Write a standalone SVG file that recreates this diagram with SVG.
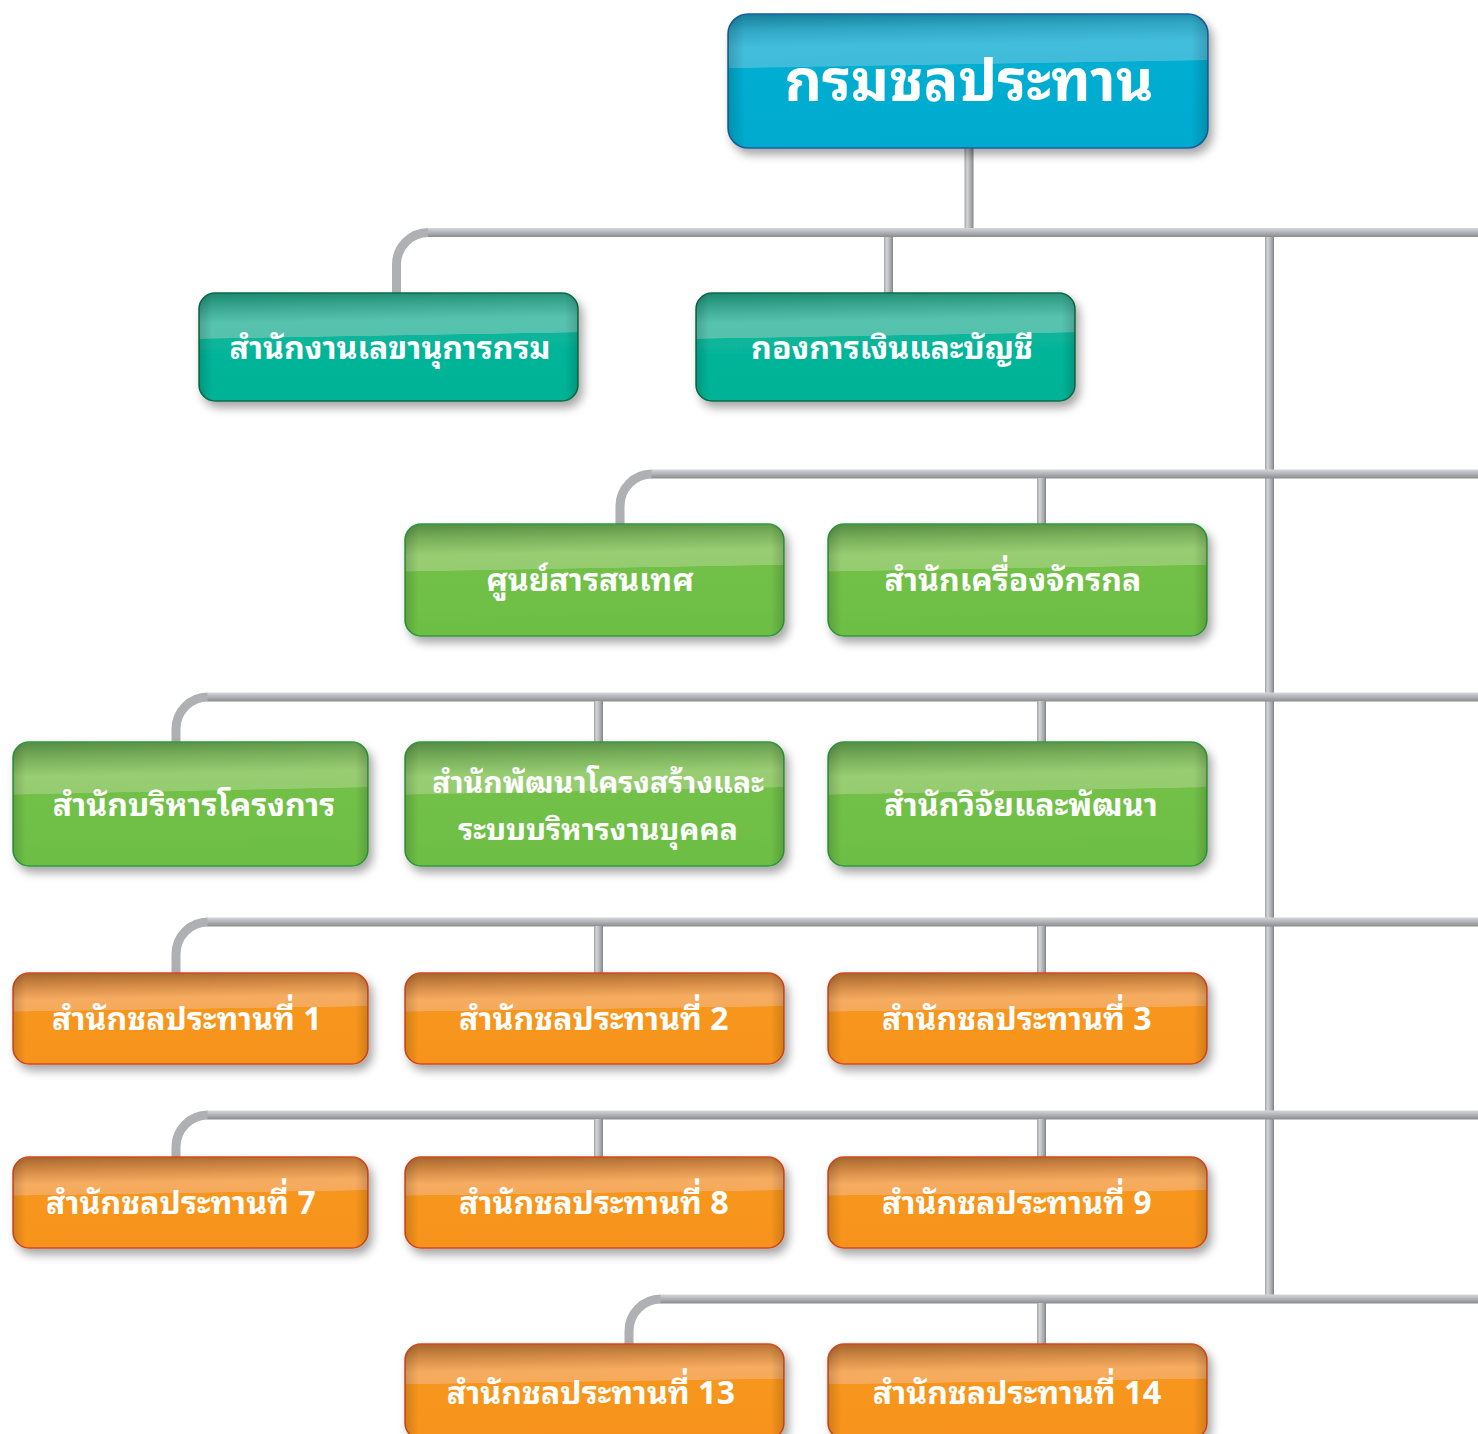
<svg xmlns="http://www.w3.org/2000/svg" width="1478" height="1434" viewBox="0 0 1478 1434">
<defs>
<style>
.lbl{font-family:"Noto Sans Thai Looped","Noto Sans Thai","Noto Sans","DejaVu Sans",sans-serif;font-weight:700;fill:#ffffff;text-anchor:middle}
.t30{font-size:32px}
.t2{font-size:30px}
.t56{font-size:58px}
.pipe{fill:none;stroke:#AEB0B3;stroke-width:9}
.hbar{fill:url(#hpipe)}
.vbar{fill:url(#vpipe)}
.side{fill:url(#side)}
.blue{fill:url(#gBlue);stroke:#1D5E9E;stroke-width:1.5}
.teal{fill:url(#gTeal);stroke:#0E6B42;stroke-width:1.5}
.green{fill:url(#gGreen);stroke:#2E9B40;stroke-width:1.5}
.orange{fill:url(#gOrange);stroke:#D8481F;stroke-width:1.5}
.shadow{filter:url(#sh)}
</style>
<filter id="sh" x="-10%" y="-20%" width="125%" height="150%">
<feDropShadow dx="4" dy="6" stdDeviation="5" flood-color="#000" flood-opacity="0.35"/>
</filter>
<linearGradient id="hpipe" x1="0" y1="0" x2="0" y2="1">
<stop offset="0" stop-color="#D6D7D9"/><stop offset="0.45" stop-color="#B3B5B8"/><stop offset="1" stop-color="#898B8E"/>
</linearGradient>
<linearGradient id="vpipe" x1="0" y1="0" x2="1" y2="0">
<stop offset="0" stop-color="#A2A4A7"/><stop offset="0.3" stop-color="#D3D4D6"/><stop offset="0.7" stop-color="#A9ABAE"/><stop offset="1" stop-color="#838588"/>
</linearGradient>
<linearGradient id="side" x1="0" y1="0" x2="1" y2="0">
<stop offset="0" stop-color="#000" stop-opacity="0.16"/><stop offset="0.035" stop-color="#000" stop-opacity="0"/><stop offset="0.965" stop-color="#000" stop-opacity="0"/><stop offset="1" stop-color="#000" stop-opacity="0.16"/>
</linearGradient>
<linearGradient id="gBlue" x1="0" y1="0" x2="0.06" y2="1">
<stop offset="0" stop-color="#157E98"/><stop offset="0.12" stop-color="#2FA6C4"/><stop offset="0.25" stop-color="#43BDDB"/><stop offset="0.4" stop-color="#40BCDA"/><stop offset="0.405" stop-color="#05AED2"/><stop offset="1" stop-color="#00AACE"/>
</linearGradient>
<linearGradient id="gTeal" x1="0" y1="0" x2="0.06" y2="1">
<stop offset="0" stop-color="#1B8870"/><stop offset="0.14" stop-color="#3AA891"/><stop offset="0.28" stop-color="#57C3AF"/><stop offset="0.42" stop-color="#55C2AD"/><stop offset="0.425" stop-color="#08B59A"/><stop offset="1" stop-color="#00B396"/>
</linearGradient>
<linearGradient id="gGreen" x1="0" y1="0" x2="0.06" y2="1">
<stop offset="0" stop-color="#578B44"/><stop offset="0.14" stop-color="#79B05A"/><stop offset="0.28" stop-color="#98CD73"/><stop offset="0.42" stop-color="#96CC70"/><stop offset="0.425" stop-color="#72C047"/><stop offset="1" stop-color="#6DBE45"/>
</linearGradient>
<linearGradient id="gOrange" x1="0" y1="0" x2="0.06" y2="1">
<stop offset="0" stop-color="#A3662C"/><stop offset="0.15" stop-color="#D38A45"/><stop offset="0.3" stop-color="#F6AC60"/><stop offset="0.42" stop-color="#F5A95A"/><stop offset="0.425" stop-color="#F7961F"/><stop offset="1" stop-color="#F7931E"/>
</linearGradient>
</defs>
<rect width="1478" height="1434" fill="#ffffff"/>

<g id="connectors">
<rect class="vbar" x="1265" y="236" width="9" height="1063"/>
<rect class="vbar" x="964.5" y="148" width="9" height="82"/>
<path class="pipe" d="M396.5,294 V264.5 A32,32 0 0 1 428.5,232.5"/>
<rect class="hbar" x="428" y="228" width="1050" height="9"/>
<rect class="vbar" x="884" y="237" width="9" height="57"/>

<path class="pipe" d="M620,525 V506 A32,32 0 0 1 652,474"/>
<rect class="hbar" x="651.5" y="469.5" width="826.5" height="9"/>
<rect class="vbar" x="1037" y="478" width="9" height="47"/>

<path class="pipe" d="M176,743 V729 A32,32 0 0 1 208,697"/>
<rect class="hbar" x="207.5" y="692.5" width="1270.5" height="9"/>
<rect class="vbar" x="594" y="701" width="9" height="42"/>
<rect class="vbar" x="1037" y="701" width="9" height="42"/>

<path class="pipe" d="M176,974 V954 A32,32 0 0 1 208,922"/>
<rect class="hbar" x="207.5" y="917.5" width="1270.5" height="9"/>
<rect class="vbar" x="594" y="926" width="9" height="48"/>
<rect class="vbar" x="1037" y="926" width="9" height="48"/>

<path class="pipe" d="M176,1158 V1147 A32,32 0 0 1 208,1115"/>
<rect class="hbar" x="207.5" y="1110.5" width="1270.5" height="9"/>
<rect class="vbar" x="594" y="1119" width="9" height="39"/>
<rect class="vbar" x="1037" y="1119" width="9" height="39"/>

<path class="pipe" d="M629,1345 V1331 A32,32 0 0 1 661,1299"/>
<rect class="hbar" x="660.5" y="1294.5" width="817.5" height="9"/>
<rect class="vbar" x="1037" y="1303" width="9" height="42"/>
</g>

<g id="n-root">
<rect class="blue shadow" x="728" y="14" width="480" height="134" rx="20"/>
<rect class="side" x="728" y="14" width="480" height="134" rx="20"/>
<text class="lbl t56" x="969" y="101">กรมชลประทาน</text>
</g>

<g id="n-secretary">
<rect class="teal shadow" x="199" y="293" width="379" height="108" rx="16"/>
<rect class="side" x="199" y="293" width="379" height="108" rx="16"/>
<text class="lbl t30" x="390" y="359">สำนักงานเลขานุการกรม</text>
</g>
<g id="n-finance">
<rect class="teal shadow" x="696" y="293" width="379" height="108" rx="16"/>
<rect class="side" x="696" y="293" width="379" height="108" rx="16"/>
<text class="lbl t30" x="892" y="359">กองการเงินและบัญชี</text>
</g>

<g id="n-ict">
<rect class="green shadow" x="405" y="524" width="379" height="112" rx="16"/>
<rect class="side" x="405" y="524" width="379" height="112" rx="16"/>
<text class="lbl t30" x="590" y="591">ศูนย์สารสนเทศ</text>
</g>
<g id="n-machinery">
<rect class="green shadow" x="828" y="524" width="379" height="112" rx="16"/>
<rect class="side" x="828" y="524" width="379" height="112" rx="16"/>
<text class="lbl t30" x="1013" y="591">สำนักเครื่องจักรกล</text>
</g>

<g id="n-project">
<rect class="green shadow" x="13" y="742" width="355" height="124" rx="16"/>
<rect class="side" x="13" y="742" width="355" height="124" rx="16"/>
<text class="lbl t30" x="194" y="816">สำนักบริหารโครงการ</text>
</g>
<g id="n-structure">
<rect class="green shadow" x="405" y="742" width="379" height="124" rx="16"/>
<rect class="side" x="405" y="742" width="379" height="124" rx="16"/>
<text class="lbl t2" x="598" y="793">สำนักพัฒนาโครงสร้างและ</text>
<text class="lbl t2" x="598" y="840">ระบบบริหารงานบุคคล</text>
</g>
<g id="n-research">
<rect class="green shadow" x="828" y="742" width="379" height="124" rx="16"/>
<rect class="side" x="828" y="742" width="379" height="124" rx="16"/>
<text class="lbl t30" x="1021" y="816">สำนักวิจัยและพัฒนา</text>
</g>

<g id="n-rio1">
<rect class="orange shadow" x="13" y="973" width="355" height="91" rx="16"/>
<rect class="side" x="13" y="973" width="355" height="91" rx="16"/>
<text class="lbl t30" x="187" y="1030">สำนักชลประทานที่ 1</text>
</g>
<g id="n-rio2">
<rect class="orange shadow" x="405" y="973" width="379" height="91" rx="16"/>
<rect class="side" x="405" y="973" width="379" height="91" rx="16"/>
<text class="lbl t30" x="594" y="1030">สำนักชลประทานที่ 2</text>
</g>
<g id="n-rio3">
<rect class="orange shadow" x="828" y="973" width="379" height="91" rx="16"/>
<rect class="side" x="828" y="973" width="379" height="91" rx="16"/>
<text class="lbl t30" x="1017" y="1030">สำนักชลประทานที่ 3</text>
</g>

<g id="n-rio7">
<rect class="orange shadow" x="13" y="1157" width="355" height="91" rx="16"/>
<rect class="side" x="13" y="1157" width="355" height="91" rx="16"/>
<text class="lbl t30" x="181" y="1214">สำนักชลประทานที่ 7</text>
</g>
<g id="n-rio8">
<rect class="orange shadow" x="405" y="1157" width="379" height="91" rx="16"/>
<rect class="side" x="405" y="1157" width="379" height="91" rx="16"/>
<text class="lbl t30" x="594" y="1214">สำนักชลประทานที่ 8</text>
</g>
<g id="n-rio9">
<rect class="orange shadow" x="828" y="1157" width="379" height="91" rx="16"/>
<rect class="side" x="828" y="1157" width="379" height="91" rx="16"/>
<text class="lbl t30" x="1017" y="1214">สำนักชลประทานที่ 9</text>
</g>

<g id="n-rio13">
<rect class="orange shadow" x="405" y="1344" width="379" height="95" rx="16"/>
<rect class="side" x="405" y="1344" width="379" height="95" rx="16"/>
<text class="lbl t30" x="591" y="1404">สำนักชลประทานที่ 13</text>
</g>
<g id="n-rio14">
<rect class="orange shadow" x="828" y="1344" width="379" height="95" rx="16"/>
<rect class="side" x="828" y="1344" width="379" height="95" rx="16"/>
<text class="lbl t30" x="1017" y="1404">สำนักชลประทานที่ 14</text>
</g>
</svg>
